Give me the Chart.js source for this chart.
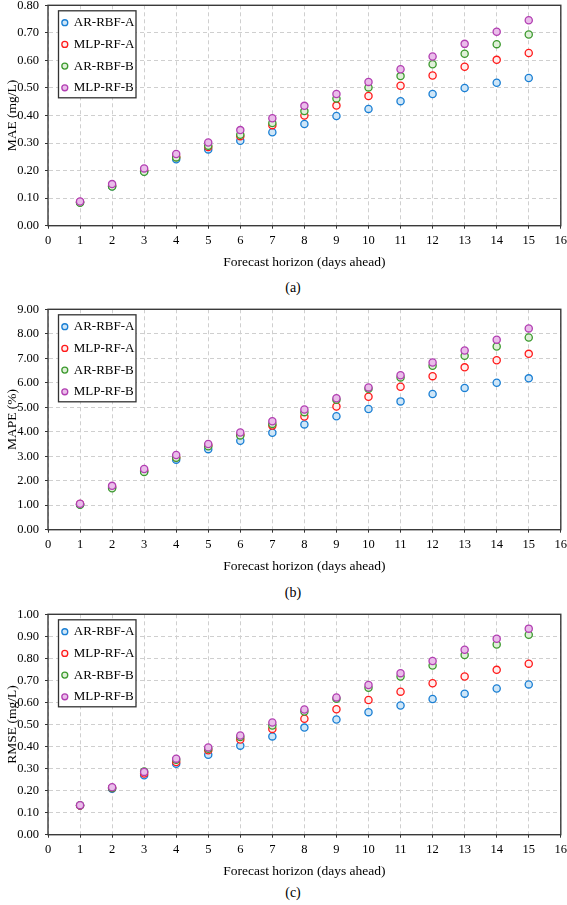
<!DOCTYPE html>
<html>
<head>
<meta charset="utf-8">
<script src="https://cdn.jsdelivr.net/npm/chart.js@4.4.1/dist/chart.umd.min.js"></script>
<style>
  body { margin: 0; background: #fff; }
  #page { position: relative; width: 567px; height: 905px; }
  .panel { position: absolute; left: 0; width: 567px; height: 275px; }
  .cap { position: absolute; left: 243px; width: 100px; text-align: center;
         font: 14px "Liberation Serif", "Times New Roman", serif; color: #000; line-height: 16px; }
</style>
</head>
<body>
<div id="page">
  <div class="panel" style="top:0px"><canvas id="maeChart"></canvas></div>
  <div class="cap" style="top:280px">(a)</div>
  <div class="panel" style="top:304px"><canvas id="mapeChart"></canvas></div>
  <div class="cap" style="top:585px">(b)</div>
  <div class="panel" style="top:609px"><canvas id="rmseChart"></canvas></div>
  <div class="cap" style="top:885px">(c)</div>
</div>
<script>
// forecast horizon, days ahead
const horizons = [1, 2, 3, 4, 5, 6, 7, 8, 9, 10, 11, 12, 13, 14, 15];
const models = ['AR-RBF-A', 'MLP-RF-A', 'AR-RBF-B', 'MLP-RF-B'];

// MAE (mg/L)
const maeArRbfA  = [0.085, 0.143, 0.197, 0.241, 0.277, 0.308, 0.339, 0.369, 0.398, 0.424, 0.452, 0.478, 0.500, 0.519, 0.536];
const maeMlpRfA  = [0.086, 0.146, 0.200, 0.249, 0.286, 0.325, 0.365, 0.400, 0.436, 0.471, 0.508, 0.545, 0.577, 0.602, 0.627];
const maeArRbfB  = [0.083, 0.142, 0.196, 0.248, 0.290, 0.330, 0.373, 0.416, 0.462, 0.502, 0.543, 0.586, 0.624, 0.659, 0.694];
const maeMlpRfB  = [0.088, 0.151, 0.208, 0.260, 0.302, 0.347, 0.390, 0.435, 0.478, 0.522, 0.568, 0.614, 0.660, 0.704, 0.746];

// MAPE (%)
const mapeArRbfA = [1.03, 1.72, 2.38, 2.86, 3.29, 3.63, 3.96, 4.30, 4.63, 4.93, 5.24, 5.54, 5.79, 6.00, 6.18];
const mapeMlpRfA = [1.05, 1.75, 2.42, 2.95, 3.45, 3.88, 4.25, 4.62, 5.03, 5.43, 5.84, 6.27, 6.63, 6.92, 7.18];
const mapeArRbfB = [1.02, 1.69, 2.36, 2.94, 3.41, 3.85, 4.32, 4.80, 5.31, 5.76, 6.22, 6.69, 7.10, 7.48, 7.85];
const mapeMlpRfB = [1.06, 1.79, 2.48, 3.05, 3.50, 3.97, 4.43, 4.91, 5.37, 5.81, 6.31, 6.83, 7.32, 7.76, 8.22];

// RMSE (mg/L)
const rmseArRbfA = [0.133, 0.208, 0.270, 0.322, 0.363, 0.404, 0.446, 0.486, 0.523, 0.556, 0.586, 0.616, 0.640, 0.663, 0.682];
const rmseMlpRfA = [0.133, 0.212, 0.278, 0.330, 0.383, 0.432, 0.480, 0.526, 0.569, 0.611, 0.649, 0.687, 0.718, 0.748, 0.776];
const rmseArRbfB = [0.134, 0.212, 0.287, 0.340, 0.390, 0.443, 0.495, 0.559, 0.617, 0.667, 0.718, 0.768, 0.815, 0.863, 0.907];
const rmseMlpRfB = [0.134, 0.215, 0.285, 0.345, 0.396, 0.450, 0.509, 0.568, 0.623, 0.679, 0.733, 0.788, 0.839, 0.889, 0.935];

const strokes = ['#1a7fd4', '#ff1a1a', '#3d9a2f', '#b23fb2'];
const fills   = ['#cfe6f7', '#ffeeee', '#e0f0d9', '#eabdea'];

Chart.defaults.font.family = '"Liberation Serif", "Times New Roman", serif';
Chart.defaults.color = '#000';

// dark frame round the plot area
const framePlugin = {
  id: 'frame',
  afterDraw(chart) {
    const a = chart.chartArea, ctx = chart.ctx;
    ctx.save();
    ctx.strokeStyle = '#3a3a3a';
    ctx.lineWidth = 1.4;
    ctx.strokeRect(a.left, a.top, a.right - a.left, a.bottom - a.top);
    ctx.restore();
  }
};

// place the in-plot legend and give it a white box with a border
const legendBoxPlugin = {
  id: 'legendBox',
  afterLayout(chart) {
    const lg = chart.legend, a = chart.chartArea;
    lg.left = a.left + 5.6;
    lg.top = a.top + 2.2;
    lg.bottom = a.bottom;
    if (!lg._boxed) {
      const orig = lg.draw;
      lg.draw = function (area) {
        const c = chart.chartArea, ctx = chart.ctx;
        ctx.save();
        ctx.fillStyle = '#fff';
        ctx.strokeStyle = '#333';
        ctx.lineWidth = 1.3;
        ctx.fillRect(c.left + 10.5, c.top + 5.5, 77.5, 87);
        ctx.strokeRect(c.left + 10.5, c.top + 5.5, 77.5, 87);
        ctx.restore();
        orig.call(this, area);
      };
      lg._boxed = true;
    }
  }
};

function toPoints(values) {
  return horizons.map((h, i) => ({ x: h, y: values[i] }));
}

function makeChart(id, yTitle, yMax, step, series) {
  const datasets = series.map((vals, i) => ({
    label: models[i],
    data: toPoints(vals),
    borderColor: strokes[i],
    backgroundColor: fills[i],
    pointRadius: 3.6,
    pointBorderWidth: 1.3,
    borderWidth: 1.3,
    pointStyle: 'circle',
    order: 4 - i
  }));

  return new Chart(document.getElementById(id), {
    type: 'scatter',
    data: { datasets },
    options: {
      responsive: true,
      maintainAspectRatio: false,
      animation: false,
      layout: { padding: { top: 5, right: 6.2, left: 0, bottom: 0 } },
      plugins: {
        tooltip: { enabled: false },
        legend: {
          position: 'chartArea',
          align: 'start',
          labels: {
            usePointStyle: true,
            boxWidth: 5,
            boxHeight: 4.2,
            padding: 8.7,
            font: { size: 13 },
            color: '#000',
            sort: (a, b) => a.datasetIndex - b.datasetIndex
          }
        }
      },
      scales: {
        x: {
          type: 'linear',
          min: 0,
          max: 16,
          ticks: { stepSize: 1, padding: 5, font: { size: 12.5 } },
          grid: { color: '#cfcfcf', tickColor: '#333', tickLength: 3 },
          border: { display: true, color: 'rgba(0,0,0,0)', dash: [4, 3] },
          title: { display: true, text: 'Forecast horizon (days ahead)', font: { size: 13.5 }, padding: { top: 0, bottom: 4 } },
          afterFit(scale) {
            scale.height = 49.3;
            scale.paddingLeft = 0;
            scale.paddingRight = 0;
          }
        },
        y: {
          min: 0,
          max: yMax,
          ticks: { stepSize: step, padding: 6, font: { size: 12.5 }, callback: v => Number(v).toFixed(2) },
          grid: { color: '#cfcfcf', tickColor: '#333', tickLength: 3 },
          border: { display: true, color: 'rgba(0,0,0,0)', dash: [4, 3] },
          title: { display: true, text: yTitle, font: { size: 13.5 }, padding: { top: 4, bottom: 0 } },
          afterFit(scale) {
            scale.width = 48;
            scale.paddingTop = 0;
            scale.paddingBottom = 0;
          }
        }
      }
    },
    plugins: [framePlugin, legendBoxPlugin]
  });
}

makeChart('maeChart', 'MAE (mg/L)', 0.8, 0.1, [maeArRbfA, maeMlpRfA, maeArRbfB, maeMlpRfB]);
makeChart('mapeChart', 'MAPE (%)', 9, 1, [mapeArRbfA, mapeMlpRfA, mapeArRbfB, mapeMlpRfB]);
makeChart('rmseChart', 'RMSE (mg/L)', 1, 0.1, [rmseArRbfA, rmseMlpRfA, rmseArRbfB, rmseMlpRfB]);
</script>
</body>
</html>
